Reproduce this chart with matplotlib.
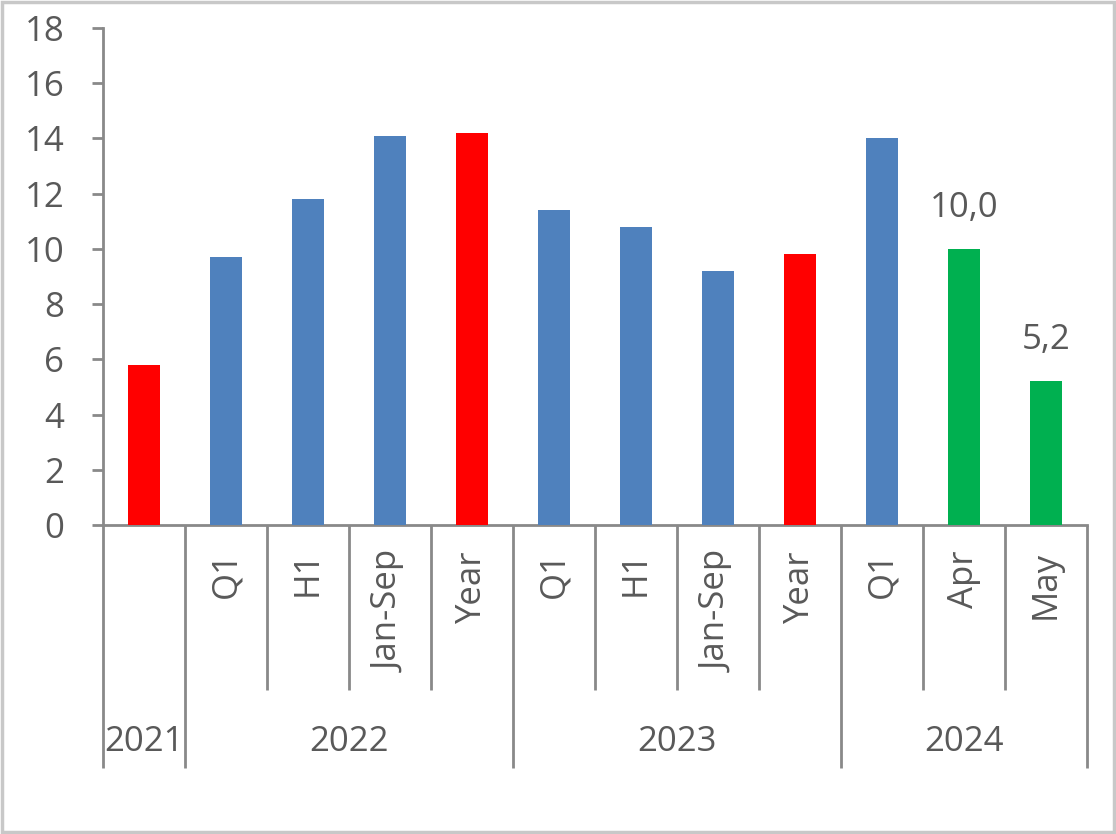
import matplotlib.pyplot as plt
from matplotlib.patches import Rectangle
from matplotlib.transforms import blended_transform_factory

plt.rcParams['font.family'] = ['Open Sans', 'DejaVu Sans']

# data
periods = ['', 'Q1', 'H1', 'Jan-Sep', 'Year', 'Q1', 'H1', 'Jan-Sep', 'Year', 'Q1', 'Apr', 'May']
values = [5.8, 9.7, 11.8, 14.1, 14.2, 11.4, 10.8, 9.2, 9.8, 14.0, 10.0, 5.2]
kinds = ['year', 'part', 'part', 'part', 'year', 'part', 'part', 'part', 'year', 'part', 'month', 'month']
years = ['2021', '2022', '2023', '2024']
year_sizes = [1, 4, 4, 3]
labelled = ['10,0', '5,2']  # shown on the month bars

colors = {'year': '#FF0000', 'part': '#4F81BD', 'month': '#00B050'}
txt = '#595959'
axc = '#898989'
fs = 25

fig = plt.figure(figsize=(11.16, 8.34), dpi=100)
ax = fig.add_axes([103/1116, 1-525/834, (1087-103)/1116, (525-28)/834])

x = list(range(len(values)))
ax.bar(x, values, width=0.4, color=[colors[k] for k in kinds], zorder=3)

# labels on green bars
mi = [i for i, k in enumerate(kinds) if k == 'month']
for i, lab in zip(mi, labelled):
    ax.annotate(lab, (i, values[i]), xytext=(0, 32), textcoords='offset pixels',
                ha='center', va='baseline', fontsize=fs, color=txt)

ax.set_xlim(-0.5, len(values)-0.5)
ax.set_ylim(0, 18)
ax.set_yticks(range(0, 19, 2))
ax.tick_params(axis='y', length=8, width=2, color=axc, labelsize=fs,
               labelcolor=txt, pad=20)
ax.set_xticks([])
for s in ['top', 'right']:
    ax.spines[s].set_visible(False)
for s in ['left', 'bottom']:
    ax.spines[s].set_color(axc)
    ax.spines[s].set_linewidth(2)

# multi-level category axis
tr = blended_transform_factory(ax.transData, ax.transAxes)
h = 497.0
inner_end = -(690-525)/h
outer_end = -(768-525)/h
bounds = [0]
for n in year_sizes:
    bounds.append(bounds[-1] + n)
for i in range(len(values)+1):
    end = outer_end if i in bounds else inner_end
    ax.plot([i-0.5, i-0.5], [0, end], transform=tr, color=axc, lw=2,
            clip_on=False, solid_capstyle='butt')

for i, p in enumerate(periods):
    if p:
        ax.text(i, -(551-525)/h, p, transform=tr, rotation=90, ha='center',
                va='top', fontsize=fs, color=txt)

for k, y in enumerate(years):
    c = (bounds[k] + bounds[k+1] - 1) / 2
    ax.text(c, -(742-525)/h, y, transform=tr, ha='center', va='center',
            fontsize=fs, color=txt)

# light frame around the picture
fig.patches.append(Rectangle((0.0015, 0.002), 0.997, 0.996, transform=fig.transFigure,
                             fill=False, edgecolor='#c8c8c8', lw=2.5))

fig.savefig('out.png', dpi=100)
